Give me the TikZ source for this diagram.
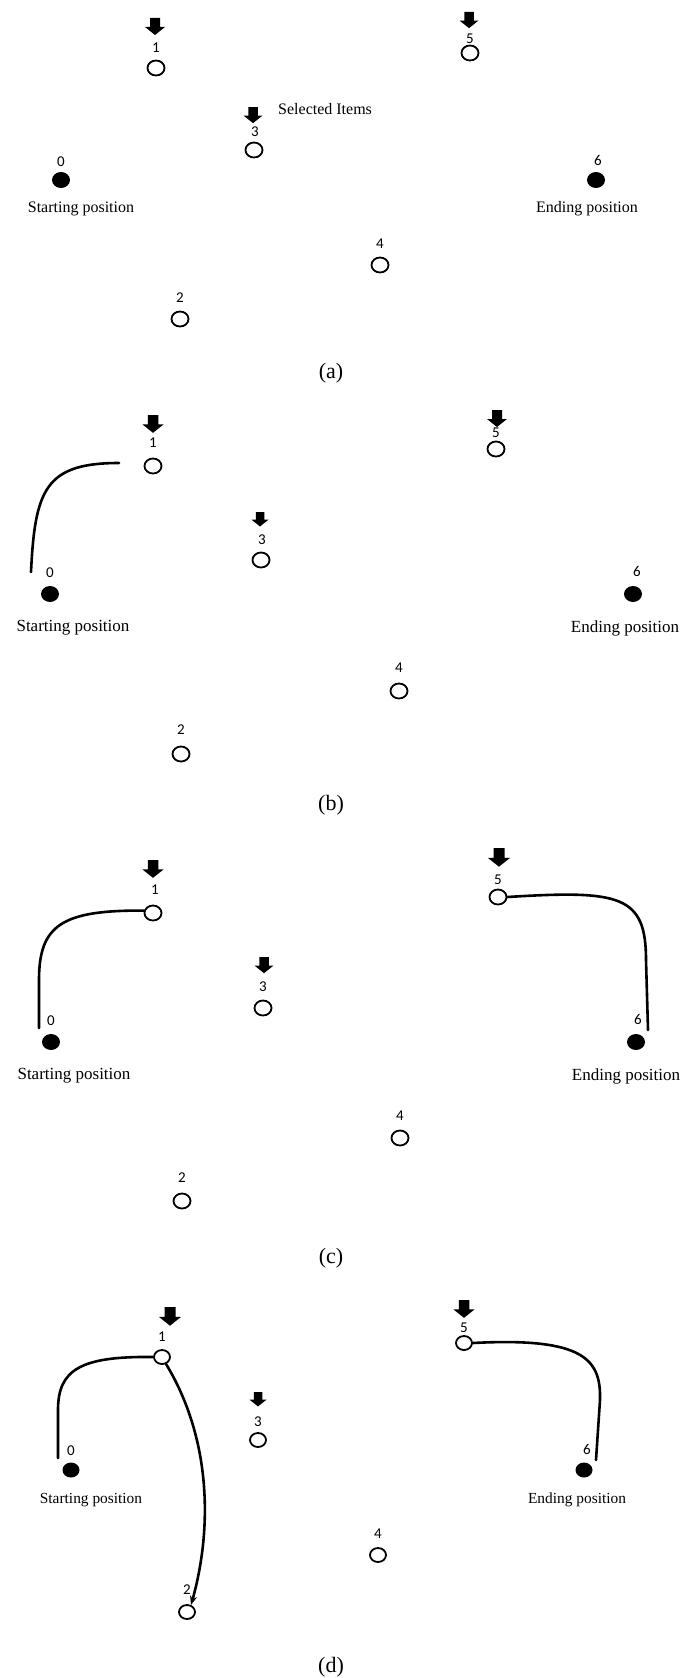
\documentclass[tikz,border=0pt]{standalone}
\usepackage{fontspec}
\setmainfont{Liberation Serif}
\newfontfamily\numfont{Carlito}
\usetikzlibrary{shapes.geometric,arrows.meta}
\tikzset{
  openpt/.style={draw=black,line width=1.8pt,ellipse,minimum width=17pt,minimum height=15pt,inner sep=0pt,fill=white},
  fullpt/.style={fill=black,ellipse,minimum width=18pt,minimum height=16pt,inner sep=0pt},
  num/.style={font=\numfont\fontsize{15}{15}\selectfont,inner sep=0pt},
  txt/.style={font=\fontsize{16}{16}\selectfont,inner sep=0pt},
  captxt/.style={font=\fontsize{22}{22}\selectfont,inner sep=0pt},
  curvepath/.style={line width=2.6pt,line cap=round},
  dnarrow/.pic={\fill (-5,0) -- (5,0) -- (5,9) -- (10,9) -- (0,17) -- (-10,9) -- (-5,9) -- cycle;}
}
\begin{document}
\begin{tikzpicture}[x=1pt,y=-1pt]
\useasboundingbox (0,0) rectangle (696,1678);
\fill[white] (0,0) rectangle (696,1678);

% ---------- panel (a)
\pic at (155,18) {dnarrow};
\pic[scale=0.95] at (469,12) {dnarrow};
\pic[scale=0.95] at (253,107) {dnarrow};
\node[openpt] (a1) at (156,68) {};
\node[num] (a1l) at (156,48) {1};
\node[openpt] (a5) at (470,53) {};
\node[num] (a5l) at (470,39) {5};
\node[openpt] (a3) at (254,150) {};
\node[num] (a3l) at (255,132) {3};
\node[fullpt] (a0) at (61,180) {};
\node[num] (a0l) at (61,162) {0};
\node[fullpt] (a6) at (596,180) {};
\node[num] (a6l) at (598,160) {6};
\node[openpt] (a4) at (380,265) {};
\node[num] (a4l) at (380,244) {4};
\node[openpt] (a2) at (180,319) {};
\node[num] (a2l) at (180,298) {2};
\node[txt,anchor=west] (asel) at (278,109) {Selected Items};
\node[txt] (astart) at (81,209) {Starting position};
\node[txt] (aend) at (587,209) {Ending position};
\node[captxt] (acap) at (331,373) {(a)};

% ---------- panel (b)
\pic[scale=1.05] at (153,415) {dnarrow};
\pic at (497,410) {dnarrow};
\pic[scale=0.85] at (260,512) {dnarrow};
\node[openpt] (b1) at (153,466) {};
\node[num] (b1l) at (153,443) {1};
\node[openpt] (b5) at (496,449) {};
\node[num] (b5l) at (496,433) {5};
\node[openpt] (b3) at (261,560) {};
\node[num] (b3l) at (262,540) {3};
\node[fullpt] (b0) at (50,594) {};
\node[num] (b0l) at (50,573) {0};
\node[fullpt] (b6) at (633,594) {};
\node[num] (b6l) at (637,571) {6};
\node[openpt] (b4) at (399,691) {};
\node[num] (b4l) at (399,668) {4};
\node[openpt] (b2) at (181,754) {};
\node[num] (b2l) at (181,730) {2};
\node[txt,font=\fontsize{17}{17}\selectfont] (bstart) at (73,628) {Starting position};
\node[txt,font=\fontsize{17}{17}\selectfont] (bend) at (625,628) {Ending position};
\node[captxt] (bcap) at (331,805) {(b)};
\coordinate (bs) at (119,463);
\coordinate (be) at (31,572);
\draw[curvepath] (bs) .. controls (45,463) and (35,490) .. (be);

% ---------- panel (c)
\pic[scale=1.05] at (153,860) {dnarrow};
\pic[scale=1.1] at (499,848) {dnarrow};
\pic[scale=0.95] at (264,957) {dnarrow};
\node[openpt] (c1) at (153,913) {};
\node[num] (c1l) at (155,890) {1};
\node[openpt] (c5) at (498,897) {};
\node[num] (c5l) at (498,880) {5};
\node[openpt] (c3) at (263,1008) {};
\node[num] (c3l) at (263,987) {3};
\node[fullpt] (c0) at (51,1042) {};
\node[num] (c0l) at (51,1021) {0};
\node[fullpt] (c6) at (636,1042) {};
\node[num] (c6l) at (638,1019) {6};
\node[openpt] (c4) at (400,1138) {};
\node[num] (c4l) at (400,1116) {4};
\node[openpt] (c2) at (182,1201) {};
\node[num] (c2l) at (182,1178) {2};
\node[txt,font=\fontsize{17}{17}\selectfont] (cstart) at (74,1076) {Starting position};
\node[txt,font=\fontsize{17}{17}\selectfont] (cend) at (626,1076) {Ending position};
\node[captxt] (ccap) at (331,1258) {(c)};
\coordinate (ce0) at (39,1028);
\coordinate (ce6) at (648,1030);
\draw[curvepath] (c1.165) .. controls (62,910) and (39,925) .. (39,980) -- (ce0);
\draw[curvepath] (c5.east) .. controls (620,890) and (646,895) .. (646,960) -- (ce6);

% ---------- panel (d)
\pic[scale=1.1] at (170,1307) {dnarrow};
\pic[scale=1.05] at (464,1300) {dnarrow};
\pic[scale=0.85] at (258,1392) {dnarrow};
\node[openpt,minimum width=16pt,minimum height=14pt] (d1) at (162,1357) {};
\node[num] (d1l) at (162,1337) {1};
\node[openpt,minimum width=16pt,minimum height=14pt] (d5) at (464,1343) {};
\node[num] (d5l) at (464,1328) {5};
\node[openpt,minimum width=16pt,minimum height=14pt] (d3) at (258,1440) {};
\node[num] (d3l) at (258,1422) {3};
\node[fullpt,minimum width=17pt,minimum height=15pt] (d0) at (71,1470) {};
\node[num] (d0l) at (71,1451) {0};
\node[fullpt,minimum width=17pt,minimum height=15pt] (d6) at (584,1470) {};
\node[num] (d6l) at (587,1449) {6};
\node[openpt,minimum width=16pt,minimum height=14pt] (d4) at (378,1555) {};
\node[num] (d4l) at (378,1534) {4};
\node[openpt,minimum width=16pt,minimum height=14pt] (d2) at (187,1612) {};
\node[num] (d2l) at (187,1590) {2};
\node[txt,font=\fontsize{15.4}{15.4}\selectfont] (dstart) at (91,1500) {Starting position};
\node[txt,font=\fontsize{15.4}{15.4}\selectfont] (dend) at (577,1500) {Ending position};
\node[captxt] (dcap) at (331,1667) {(d)};
\coordinate (de0) at (58,1458);
\coordinate (de6) at (596,1460);
\draw[curvepath] (d1.west) .. controls (80,1356) and (58,1370) .. (58,1410) -- (de0);
\draw[curvepath] (d5.east) .. controls (585,1337) and (601,1360) .. (600,1400) -- (de6);
\draw[curvepath,-{Stealth[length=9pt,width=7pt]}] (d1.-60) .. controls (212,1440) and (212,1530) .. (d2.60);
\end{tikzpicture}
\end{document}
